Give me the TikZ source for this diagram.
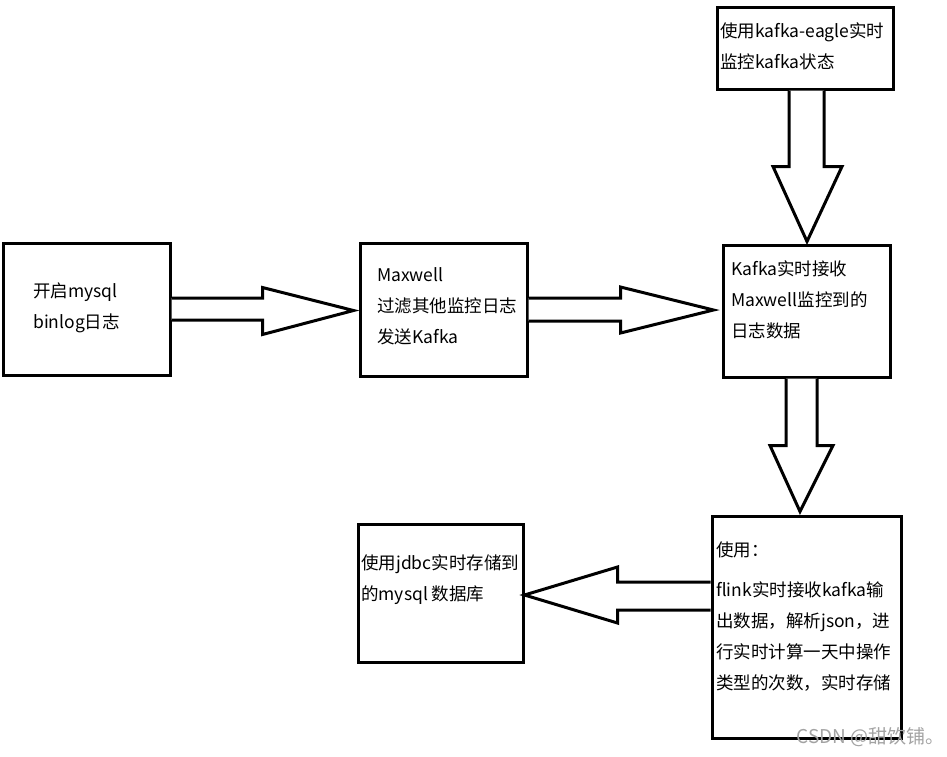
\documentclass[tikz,border=0pt]{standalone}
\usepackage{fontspec}
\setmainfont{Noto Sans CJK SC}
\usetikzlibrary{calc}
\definecolor{ink}{HTML}{000000}
\definecolor{wmgray}{HTML}{A3A3A3}

\begin{document}
\begin{tikzpicture}[x=1pt,y=-1pt,text=ink,
    font=\fontsize{17.5}{31}\selectfont,
    box/.style={draw=ink,line width=3pt,inner sep=0pt},
    txt/.style={anchor=base west,align=left,inner sep=0pt},
    hollow/.style={draw=ink,line width=3pt,line join=miter,fill=white}]
  \useasboundingbox (0,0) rectangle (947,756);
  \node[box,minimum width=167pt,minimum height=132pt] (binlog) at (86.5,309) {};
  \node[box,minimum width=167pt,minimum height=133pt] (maxwell) at (443.5,309.5) {};
  \node[box,minimum width=167pt,minimum height=132pt] (kafka) at (806.5,311) {};
  \node[box,minimum width=176pt,minimum height=82pt] (eagle) at (805,48) {};
  \node[box,minimum width=189pt,minimum height=222pt] (flink) at (806.5,627) {};
  \node[box,minimum width=165pt,minimum height=138pt] (mysqldb) at (440.5,593) {};
  \draw[hollow] ($(binlog.east)+(0,-11)$) -- ($(maxwell.west)+(-96,-11.5)$)
    -- ($(maxwell.west)+(-96,-22)$) -- ($(maxwell.west)+(-5,1)$)
    -- ($(maxwell.west)+(-96,25)$) -- ($(maxwell.west)+(-96,10.5)$)
    -- ($(binlog.east)+(0,11)$);
  \draw[hollow] ($(maxwell.east)+(0,-11.5)$) -- ($(kafka.west)+(-101,-13)$)
    -- ($(kafka.west)+(-101,-24)$) -- ($(kafka.west)+(-8,-1)$)
    -- ($(kafka.west)+(-101,22)$) -- ($(kafka.west)+(-101,10)$)
    -- ($(maxwell.east)+(0,11.5)$);
  \draw[hollow] ($(eagle.south)+(-16,0)$) -- ($(kafka.north)+(-17.5,-77)$)
    -- ($(kafka.north)+(-33.5,-77)$) -- ($(kafka.north)+(0.5,-2)$)
    -- ($(kafka.north)+(35.5,-77)$) -- ($(kafka.north)+(17.5,-77)$)
    -- ($(eagle.south)+(19,0)$);
  \draw[hollow] ($(kafka.south)+(-20.5,0)$) -- ($(flink.north)+(-20.5,-69)$)
    -- ($(flink.north)+(-36.5,-69)$) -- ($(flink.north)+(-6.5,-3)$)
    -- ($(flink.north)+(26.5,-69)$) -- ($(flink.north)+(10.5,-69)$)
    -- ($(kafka.south)+(10.5,0)$);
  \draw[hollow] ($(flink.west)+(0,-45)$) -- ($(mysqldb.east)+(93,-11)$)
    -- ($(mysqldb.east)+(93,-26)$) -- ($(mysqldb.east)+(0,2)$)
    -- ($(mysqldb.east)+(93,30)$) -- ($(mysqldb.east)+(93,17)$)
    -- ($(flink.west)+(0,-17)$);
  \node[txt] (binlogtxt) at (33,328.5) {开启mysql\\binlog日志};
  \node[txt] (maxwelltxt) at (377,343.5) {Maxwell\\过滤其他监控日志\\发送Kafka};
  \node[txt] (kafkatxt) at (731,337.5) {Kafka实时接收\\Maxwell监控到的\\日志数据};
  \node[txt] (eagletxt) at (720,68.5) {使用kafka-eagle实时\\监控kafka状态};
  \node[txt] (flinktxt) at (716,689.5)
    {使用：\\[9pt]flink实时接收kafka输\\出数据，解析json，进\\行实时计算一天中操作\\类型的次数，实时存储};
  \node[txt] (mysqldbtxt) at (361,600.5) {使用jdbc实时存储到\\的mysql 数据库};
  \node[anchor=west,text=wmgray,font=\fontsize{19}{19}\selectfont] (mark) at (793,737)
    {CSDN @甜饮铺。};
\end{tikzpicture}
\end{document}
